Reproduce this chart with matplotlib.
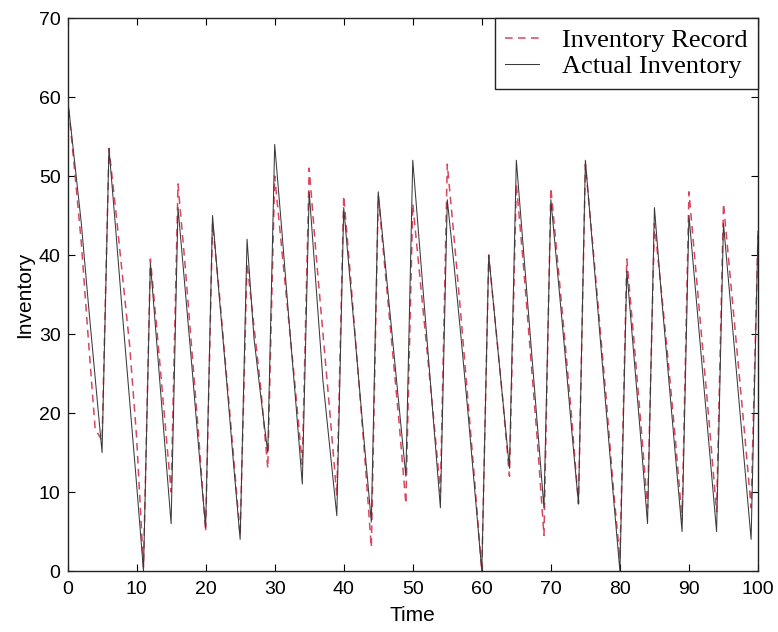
import matplotlib
matplotlib.use("Agg")
import matplotlib.pyplot as plt

time = list(range(101))

actual_inventory = [
    60, 52, 44, 34, 24.5, 15, 53.5, 43, 32, 21.5,
    11, 0, 39, 28, 17, 6, 46, 36, 26, 15.5,
    5.5, 45, 34.5, 24.5, 14, 4, 42, 29.5, 22, 15,
    54, 43.5, 32.5, 22, 11, 48, 36, 24, 15.5, 7,
    46, 36, 26, 16, 6.2, 48, 39, 30, 21, 12,
    52, 41, 30, 19, 8, 47, 38.5, 29.5, 20, 10,
    0, 40, 31, 22, 13, 52, 41, 30, 19, 8,
    47, 37.5, 28, 18, 8.5, 52, 41.5, 31, 20.5, 10,
    0, 38, 27.5, 17, 6, 46, 35, 25, 15, 5,
    45, 35, 25, 15, 5, 44, 34, 24, 14, 4,
    43,
]

inventory_record = [
    60, 51, 41.5, 29.5, 18, 16.5, 53.5, 45.5, 37, 28.5,
    17, 0.5, 39.5, 30, 20, 10, 49, 39, 28, 17,
    5, 44, 35, 25, 15, 4.5, 39, 31, 23, 13,
    50, 41, 32, 23, 13.5, 51, 40, 30, 20, 9.5,
    47.5, 37, 26, 15, 3, 47.5, 38, 28.5, 19, 8.5,
    46.5, 37.5, 28.5, 19.5, 10, 51.5, 42, 32, 21.5, 11,
    0, 40, 31, 22, 12, 49, 39, 28, 17, 4.5,
    48.5, 39, 29.5, 19.5, 8.5, 51.5, 42, 32, 22, 11,
    1.5, 39.5, 29.5, 19, 8, 44, 35.5, 26.5, 17, 6.5,
    48, 38, 28, 18, 7.5, 46.5, 37, 27.5, 18, 8,
    42.5,
]

x_ticks = [0, 10, 20, 30, 40, 50, 60, 70, 80, 90, 100]
y_ticks = [0, 10, 20, 30, 40, 50, 60, 70]

plt.rcParams['font.family'] = ['Liberation Sans', 'DejaVu Sans']

fig = plt.figure(figsize=(7.78, 6.32), dpi=100)
ax = fig.add_axes([0.0868, 0.0965, 0.8875, 0.875])

ax.plot(time, inventory_record, linestyle=(0, (5, 3.5)), color='#d8475f',
        linewidth=1.1, label='Inventory Record', zorder=2)
ax.plot(time, actual_inventory, linestyle='-', color='#3a3a3a',
        linewidth=0.75, label='Actual Inventory', zorder=3)

ax.set_xlim(0, 100)
ax.set_ylim(0, 70)
ax.set_xticks(x_ticks)
ax.set_yticks(y_ticks)
ax.tick_params(direction='in', top=True, right=True, length=5, width=0.8,
               labelsize=14)
ax.tick_params(axis='x', pad=7)
ax.tick_params(axis='y', pad=5)
for s in ax.spines.values():
    s.set_linewidth(1.0)
    s.set_color('#222222')

ax.set_xlabel('Time', fontsize=15, labelpad=6)
ax.set_ylabel('Inventory', fontsize=15, labelpad=3)

leg = ax.legend(loc='upper right', fancybox=False, framealpha=1,
                edgecolor='#222222', borderaxespad=0,
                prop={'family': ['Liberation Serif'], 'size': 19},
                handlelength=1.3, handletextpad=0.85, borderpad=0.4,
                labelspacing=0.1)
leg.get_frame().set_linewidth(1.0)

fig.savefig('out.png', dpi=100, facecolor='white')
